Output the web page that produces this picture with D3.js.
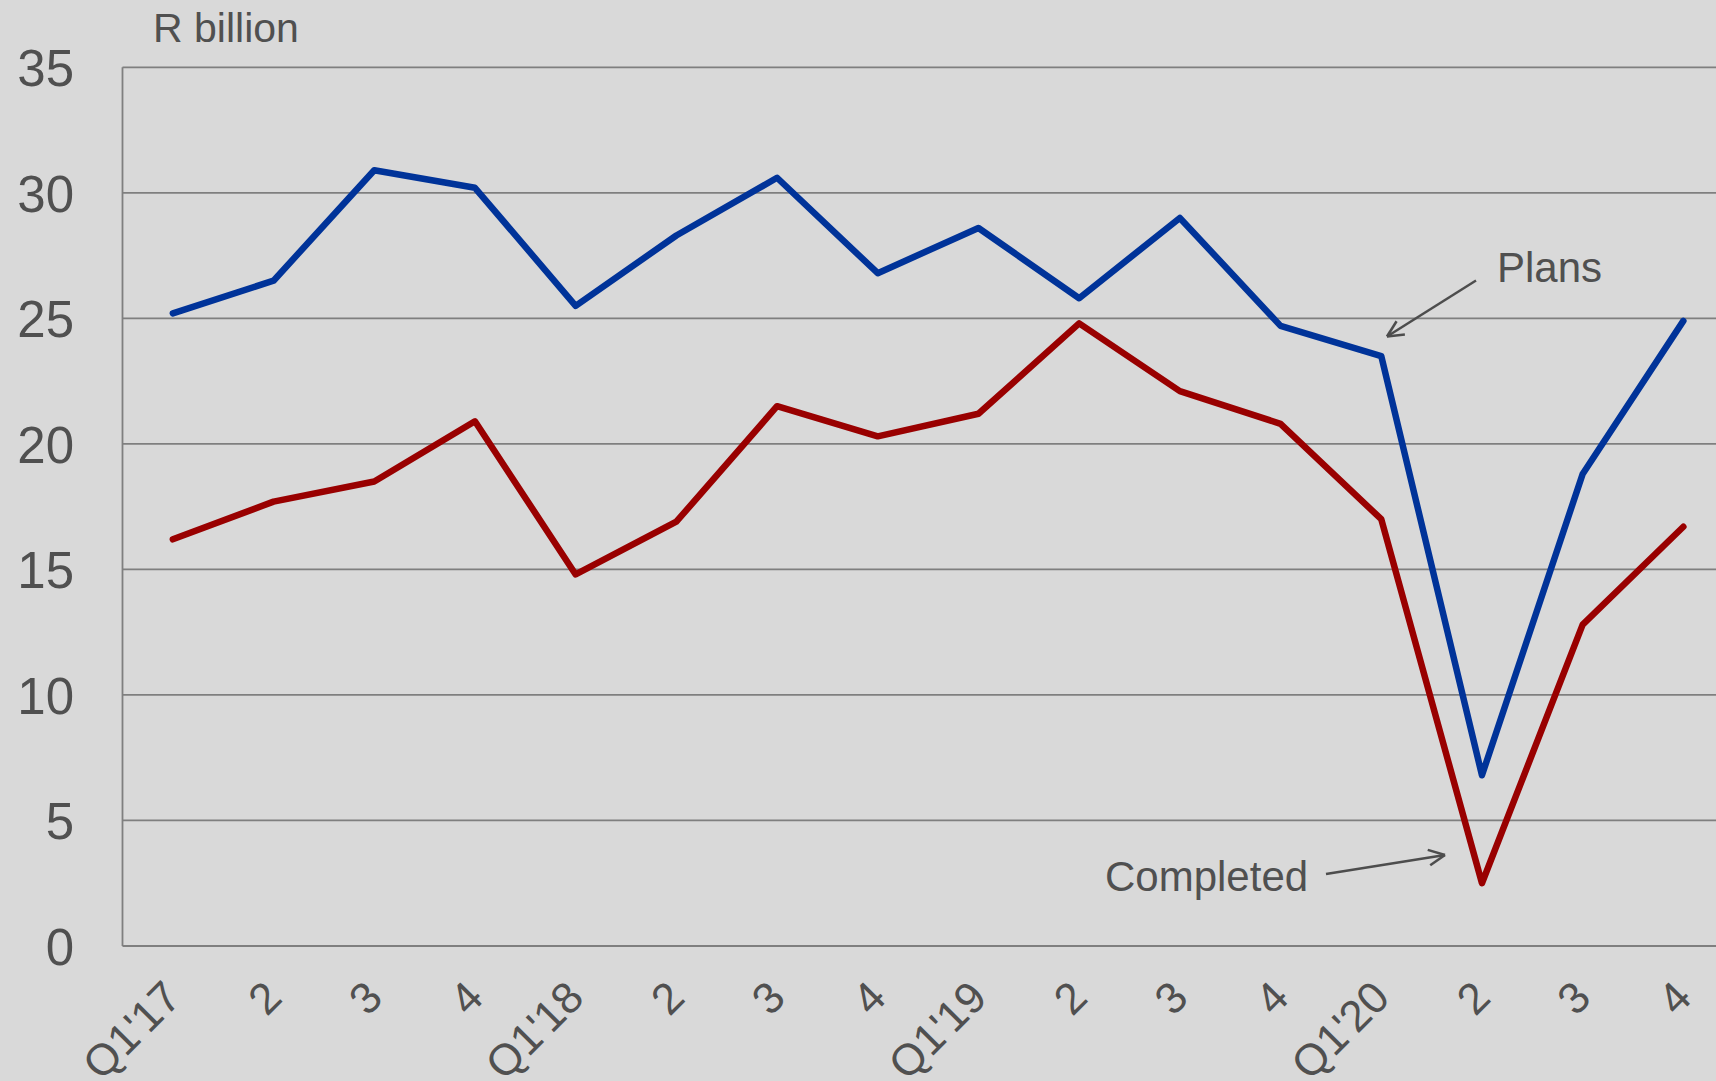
<!DOCTYPE html>
<html>
<head>
<meta charset="utf-8">
<script src="https://cdn.jsdelivr.net/npm/d3@7"></script>
<style>
  html, body { margin: 0; padding: 0; background: #d9d9d9; }
  svg { display: block; }
  text { font-family: "Liberation Sans", Arial, sans-serif; fill: #505050; }
</style>
</head>
<body>
<svg id="chart" width="1716" height="1081"></svg>
<script>
// ---- data ----
const categories = ["Q1'17","2","3","4","Q1'18","2 ","3 ","4 ","Q1'19","2  ","3  ","4  ","Q1'20","2   ","3   ","4   "];
const tickLabels = ["Q1'17","2","3","4","Q1'18","2","3","4","Q1'19","2","3","4","Q1'20","2","3","4"];
const plans =     [25.2, 26.5, 30.9, 30.2, 25.5, 28.3, 30.6, 26.8, 28.6, 25.8, 29.0, 24.7, 23.5, 6.8, 18.8, 24.9];
const completed = [16.2, 17.7, 18.5, 20.9, 14.8, 16.9, 21.5, 20.3, 21.2, 24.8, 22.1, 20.8, 17.0, 2.5, 12.8, 16.7];
const yTicks = [0, 5, 10, 15, 20, 25, 30, 35];
const unitLabel = "R billion";
const seriesNames = ["Plans", "Completed"];

// ---- layout ----
const W = 1716, H = 1081;
const left = 122.5, plotRight = 1716;
const svg = d3.select("#chart");
svg.append("rect").attr("width", W).attr("height", H).attr("fill", "#d9d9d9");

const x = d3.scaleBand().domain(d3.range(categories.length)).range([left, left + 16 * 100.7]).padding(0);
const cx = i => x(i) + x.bandwidth() / 2;
const y = d3.scaleLinear().domain([0, 35]).range([946, 67.3]);

// gridlines
svg.append("g").selectAll("line").data(yTicks).join("line")
  .attr("x1", left).attr("x2", plotRight)
  .attr("y1", d => y(d)).attr("y2", d => y(d))
  .attr("stroke", "#7f7f7f").attr("stroke-width", 1.8);

// left axis line
svg.append("line").attr("x1", left).attr("x2", left)
  .attr("y1", y(35)).attr("y2", y(0))
  .attr("stroke", "#7f7f7f").attr("stroke-width", 1.8);

// y tick labels
const yAxis = d3.axisLeft(y).tickValues(yTicks).tickSize(0).tickPadding(0);
const gy = svg.append("g").attr("transform", "translate(74,0)").call(yAxis);
gy.select(".domain").remove();
gy.selectAll("text").attr("font-size", 51).attr("fill", "#505050")
  .attr("font-family", "Liberation Sans, Arial, sans-serif").attr("dy", "0.36em");

// x tick labels (rotated)
svg.append("g").selectAll("text").data(tickLabels).join("text")
  .attr("transform", (d, i) => `translate(${cx(i) + 10.5},${1000}) rotate(-45)`)
  .attr("text-anchor", "end")
  .attr("font-size", 44)
  .text(d => d);

// unit label
svg.append("text").attr("x", 153).attr("y", 41.5).attr("font-size", 41).text(unitLabel);

// lines
const line = d3.line().x((d, i) => cx(i)).y(d => y(d));
svg.append("path").datum(plans).attr("d", line)
  .attr("fill", "none").attr("stroke", "#003399").attr("stroke-width", 6.5)
  .attr("stroke-linejoin", "round").attr("stroke-linecap", "round");
svg.append("path").datum(completed).attr("d", line)
  .attr("fill", "none").attr("stroke", "#990000").attr("stroke-width", 6.5)
  .attr("stroke-linejoin", "round").attr("stroke-linecap", "round");

// annotations
function arrow(x1, y1, x2, y2) {
  const g = svg.append("g").attr("stroke", "#4d4d4d").attr("stroke-width", 2.5).attr("fill", "none");
  g.append("line").attr("x1", x1).attr("y1", y1).attr("x2", x2).attr("y2", y2);
  const a = Math.atan2(y2 - y1, x2 - x1), L = 18, s = 0.45;
  [a + Math.PI - s, a + Math.PI + s].forEach(t => {
    g.append("line").attr("x1", x2).attr("y1", y2)
      .attr("x2", x2 + L * Math.cos(t)).attr("y2", y2 + L * Math.sin(t));
  });
}
svg.append("text").attr("x", 1497).attr("y", 282).attr("font-size", 42).text(seriesNames[0]);
arrow(1476, 280.5, 1387, 336.5);
svg.append("text").attr("x", 1105).attr("y", 891).attr("font-size", 42).text(seriesNames[1]);
arrow(1326, 874, 1445, 855);
</script>
</body>
</html>
